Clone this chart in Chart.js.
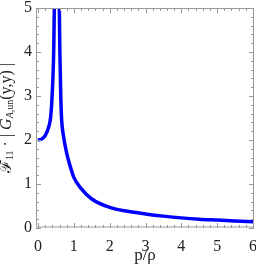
<!DOCTYPE html>
<html>
<head>
<meta charset="utf-8">
<script src="https://cdn.jsdelivr.net/npm/chart.js@4.4.0/dist/chart.umd.min.js"></script>
<style>
  html, body { margin: 0; padding: 0; background: #fff; }
  #wrap { width: 256px; height: 270px; }
</style>
</head>
<body>
<div id="wrap"><canvas id="grafico" width="256" height="270"></canvas></div>
<script>
// datos
const pRho = [0, 0.1, 0.2, 0.3, 0.35, 0.38, 0.42, 0.44, 0.455, 0.5, 0.55, 0.595, 0.61, 0.635, 0.66, 0.7, 0.8, 0.9, 1.0, 1.2, 1.5, 2, 2.5, 3, 3.5, 4, 4.5, 5, 5.5, 6];
const valores = [2.0, 2.02, 2.1, 2.3, 2.5, 2.8, 3.5, 4.1, 5, 9, 9, 5, 4, 3, 2.45, 2.15, 1.7, 1.4, 1.15, 0.9, 0.66, 0.47, 0.38, 0.32, 0.27, 0.23, 0.2, 0.18, 0.16, 0.14];
const xTicks = [0, 1, 2, 3, 4, 5, 6];
const yTicks = [0, 1, 2, 3, 4, 5];

const serif = "'Liberation Serif', 'DejaVu Serif', serif";

// marco con ticks hacia adentro (estilo Mathematica)
const marco = {
  id: "marco",
  afterDatasetsDraw(chart) {
    const { ctx, chartArea: a, scales } = chart;
    ctx.save();
    ctx.strokeStyle = "#999";
    ctx.lineWidth = 1;
    ctx.strokeRect(a.left + 0.5, a.top + 0.5, a.right - a.left - 1, a.bottom - a.top - 1);
    ctx.strokeStyle = "#ccc";
    ctx.lineWidth = 2;
    ctx.beginPath();
    ctx.moveTo(a.left, a.bottom - 1);
    ctx.lineTo(a.right, a.bottom - 1);
    ctx.stroke();
    ctx.strokeStyle = "#999";
    ctx.lineWidth = 1;
    ctx.beginPath();
    for (let i = 0; i <= 30; i++) {
      const v = i * 0.2;
      const len = i % 5 === 0 ? 5 : 3;
      const px = Math.round(scales.x.getPixelForValue(v)) + 0.5;
      ctx.moveTo(px, a.bottom);
      ctx.lineTo(px, a.bottom - len);
      ctx.moveTo(px, a.top);
      ctx.lineTo(px, a.top + len);
    }
    for (let i = 0; i <= 25; i++) {
      const v = i * 0.2;
      const len = i % 5 === 0 ? 5 : 3;
      const py = Math.round(scales.y.getPixelForValue(v)) + 0.5;
      ctx.moveTo(a.left, py);
      ctx.lineTo(a.left + len, py);
      ctx.moveTo(a.right, py);
      ctx.lineTo(a.right - len, py);
    }
    ctx.stroke();
    ctx.restore();
  },
};

// titulo del eje y con subindices
const tituloY = {
  id: "tituloY",
  afterDraw(chart) {
    const { ctx, chartArea: a } = chart;
    const partes = [
      { t: "\u2131", f: "16px " + serif, dy: 0 },
      { t: "11", f: "10px " + serif, dy: 3 },
      { t: " \u00b7 | ", f: "16px " + serif, dy: 0 },
      { t: "G", f: "italic 16px " + serif, dy: 0 },
      { t: "A", f: "italic 10px " + serif, dy: 3 },
      { t: ",un", f: "10px " + serif, dy: 3 },
      { t: "(y,y) |", f: "16px " + serif, dy: 0 },
    ];
    ctx.save();
    let total = 0;
    partes.forEach((p) => {
      ctx.font = p.f;
      p.w = ctx.measureText(p.t).width;
      total += p.w;
    });
    ctx.translate(7, (a.top + a.bottom) / 2);
    ctx.rotate(-Math.PI / 2);
    ctx.fillStyle = "#222";
    ctx.textAlign = "left";
    ctx.textBaseline = "middle";
    let x = -total / 2;
    partes.forEach((p) => {
      ctx.font = p.f;
      ctx.fillText(p.t, x, p.dy);
      x += p.w;
    });
    ctx.restore();
  },
};

// etiquetas del eje y, dibujadas al final
const etiquetasY = {
  id: "etiquetasY",
  afterDraw(chart) {
    const { ctx, chartArea: a, scales } = chart;
    ctx.save();
    ctx.fillStyle = "#222";
    ctx.font = "16px " + serif;
    ctx.textAlign = "right";
    ctx.textBaseline = "middle";
    yTicks.forEach((v) => {
      ctx.fillText(String(v), a.left - 4, scales.y.getPixelForValue(v));
    });
    ctx.restore();
  },
};

new Chart(document.getElementById("grafico"), {
  type: "line",
  data: {
    datasets: [
      {
        data: pRho.map((p, i) => ({ x: p, y: valores[i] })),
        borderColor: "#0000ff",
        borderWidth: 3.5,
        pointRadius: 0,
        cubicInterpolationMode: "monotone",
        clip: 0,
        fill: false,
      },
    ],
  },
  options: {
    responsive: false,
    animation: false,
    layout: { padding: { top: 8, right: 2, left: 0, bottom: 0 } },
    plugins: { legend: { display: false }, tooltip: { enabled: false } },
    scales: {
      x: {
        type: "linear",
        min: -0.056,
        max: 6.028,
        afterBuildTicks: (s) => { s.ticks = xTicks.map((v) => ({ value: v })); },
        afterFit: (s) => { s.height = 42; s.paddingLeft = 0; s.paddingRight = 0; },
        grid: { display: false },
        border: { display: false },
        ticks: { color: "#222", padding: 1, maxRotation: 0, autoSkip: false, font: { family: serif, size: 16 } },
        title: { display: true, text: "p/\u03c1", color: "#222", padding: { top: 0, bottom: 4 }, font: { family: serif, size: 17 } },
      },
      y: {
        min: 0,
        max: 5,
        afterBuildTicks: (s) => { s.ticks = yTicks.map((v) => ({ value: v })); },
        afterFit: (s) => { s.width = 36; s.paddingTop = 0; s.paddingBottom = 0; },
        grid: { display: false },
        border: { display: false },
        ticks: { display: false },
      },
    },
  },
  plugins: [marco, tituloY, etiquetasY],
});
</script>
</body>
</html>
